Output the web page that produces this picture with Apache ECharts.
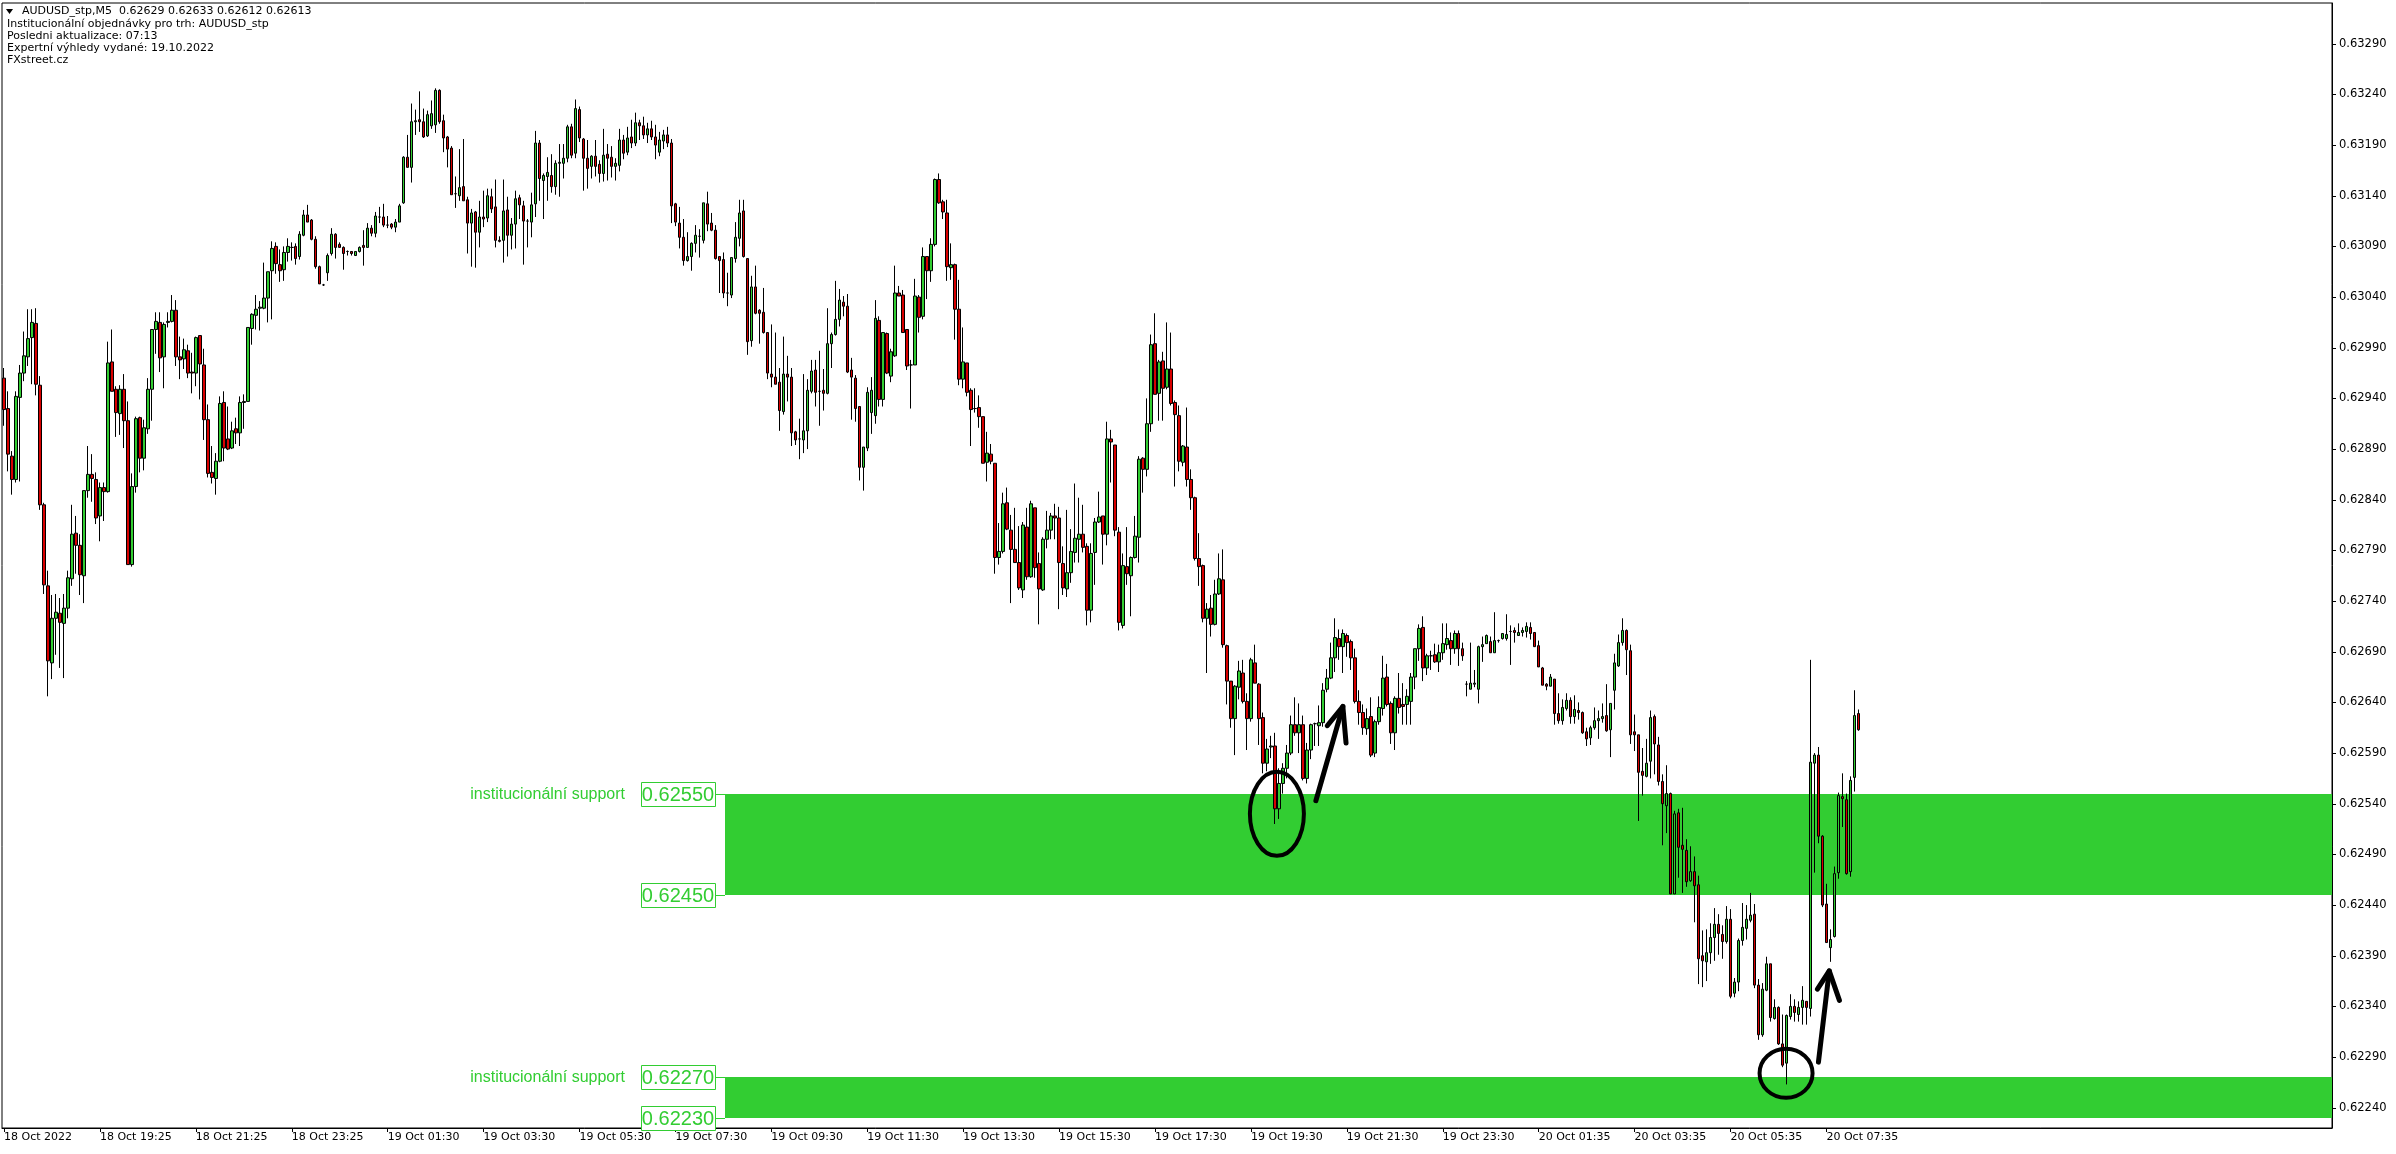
<!DOCTYPE html>
<html><head><meta charset="utf-8">
<script src="https://cdn.jsdelivr.net/npm/echarts@6/dist/echarts.min.js"></script>
<style>html,body{margin:0;padding:0;background:#fff;overflow:hidden}#c{width:2396px;height:1154px}</style>
</head><body><div id="c"></div>
<script>
// ---- DATA (AUDUSD_stp, M5) ----
const opens = [
0.62960,0.62930,0.62883,0.62860,0.62941,0.62965,0.62981,0.63000,0.63014,0.62953,
0.62835,0.62755,0.62679,0.62723,0.62728,0.62718,0.62733,0.62762,0.62807,0.62795,
0.62765,0.62849,0.62865,0.62860,0.62824,0.62852,0.62848,0.62976,0.62949,0.62925,
0.62949,0.62918,0.62776,0.62853,0.62921,0.62881,0.62910,0.62949,0.63008,0.63015,
0.62981,0.63015,0.63016,0.63027,0.62981,0.62979,0.62987,0.62966,0.62965,0.63002,
0.62973,0.62919,0.62867,0.62861,0.62878,0.62936,0.62900,0.62891,0.62910,0.62906,
0.62936,0.62937,0.63009,0.63022,0.63029,0.63029,0.63039,0.63066,0.63090,0.63072,
0.63067,0.63084,0.63089,0.63090,0.63080,0.63101,0.63121,0.63116,0.63097,0.63070,
0.63052,0.63064,0.63083,0.63102,0.63092,0.63089,0.63085,0.63085,0.63081,0.63085,
0.63091,0.63089,0.63108,0.63103,0.63119,0.63119,0.63111,0.63112,0.63109,0.63114,
0.63133,0.63178,0.63168,0.63213,0.63215,0.63213,0.63199,0.63209,0.63210,0.63244,
0.63214,0.63198,0.63187,0.63142,0.63140,0.63149,0.63136,0.63113,0.63124,0.63104,
0.63119,0.63118,0.63139,0.63129,0.63096,0.63096,0.63126,0.63101,0.63112,0.63138,
0.63130,0.63115,0.63114,0.63132,0.63192,0.63155,0.63159,0.63160,0.63149,0.63172,
0.63172,0.63177,0.63208,0.63182,0.63225,0.63196,0.63177,0.63169,0.63179,0.63171,
0.63162,0.63181,0.63178,0.63169,0.63170,0.63195,0.63183,0.63198,0.63192,0.63212,
0.63209,0.63200,0.63206,0.63198,0.63183,0.63194,0.63200,0.63192,0.63132,0.63113,
0.63099,0.63076,0.63080,0.63093,0.63100,0.63096,0.63132,0.63113,0.63106,0.63080,
0.63077,0.63044,0.63042,0.63078,0.63098,0.63125,0.63078,0.62997,0.63050,0.63027,
0.63025,0.63005,0.62964,0.62961,0.62956,0.62927,0.62964,0.62961,0.62907,0.62900,
0.62899,0.62908,0.62947,0.62968,0.62947,0.62948,0.62945,0.62994,0.63003,0.63018,
0.63035,0.63031,0.62968,0.62960,0.62932,0.62872,0.62891,0.62926,0.62923,0.63017,
0.62939,0.63004,0.62962,0.62982,0.63044,0.63042,0.63008,0.62973,0.62973,0.63040,
0.63021,0.63080,0.63066,0.63092,0.63156,0.63134,0.63123,0.63069,0.63072,0.63028,
0.62959,0.62975,0.62948,0.62930,0.62931,0.62922,0.62877,0.62885,0.62876,0.62783,
0.62789,0.62837,0.62810,0.62791,0.62778,0.62751,0.62813,0.62764,0.62832,0.62777,
0.62751,0.62801,0.62810,0.62824,0.62822,0.62777,0.62752,0.62768,0.62788,0.62801,
0.62806,0.62794,0.62731,0.62788,0.62818,0.62824,0.62806,0.62900,0.62894,0.62808,
0.62716,0.62774,0.62765,0.62783,0.62803,0.62881,0.62870,0.62915,0.62994,0.62945,
0.62977,0.62951,0.62969,0.62936,0.62923,0.62877,0.62892,0.62860,0.62842,0.62782,
0.62775,0.62723,0.62733,0.62717,0.62747,0.62761,0.62696,0.62661,0.62624,0.62655,
0.62669,0.62641,0.62624,0.62679,0.62658,0.62625,0.62580,0.62596,0.62597,0.62535,
0.62560,0.62575,0.62590,0.62618,0.62610,0.62618,0.62565,0.62593,0.62619,0.62617,
0.62620,0.62653,0.62664,0.62684,0.62703,0.62695,0.62706,0.62700,0.62684,0.62641,
0.62630,0.62614,0.62626,0.62590,0.62621,0.62634,0.62665,0.62639,0.62610,0.62644,
0.62638,0.62638,0.62641,0.62665,0.62693,0.62714,0.62674,0.62686,0.62687,0.62680,
0.62689,0.62697,0.62701,0.62693,0.62708,0.62693,0.62658,0.62653,0.62658,0.62653,
0.62695,0.62698,0.62700,0.62689,0.62701,0.62703,0.62703,0.62710,0.62711,0.62706,
0.62709,0.62710,0.62714,0.62709,0.62696,0.62674,0.62658,0.62656,0.62663,0.62629,
0.62622,0.62634,0.62642,0.62626,0.62632,0.62630,0.62611,0.62605,0.62615,0.62622,
0.62624,0.62627,0.62613,0.62652,0.62676,0.62699,0.62711,0.62691,0.62611,0.62608,
0.62572,0.62567,0.62582,0.62626,0.62598,0.62562,0.62538,0.62550,0.62451,0.62531,
0.62499,0.62494,0.62464,0.62473,0.62460,0.62390,0.62384,0.62393,0.62408,0.62421,
0.62411,0.62404,0.62426,0.62353,0.62364,0.62405,0.62417,0.62425,0.62431,0.62361,
0.62312,0.62356,0.62382,0.62328,0.62339,0.62303,0.62284,0.62330,0.62340,0.62332,
0.62339,0.62345,0.62338,0.62580,0.62588,0.62508,0.62441,0.62398,0.62409,0.62472,
0.62547,0.62544,0.62473,0.62566,0.62629];
const highs = [
0.62970,0.62947,0.62888,0.62947,0.62973,0.63006,0.63028,0.63028,0.63029,0.62962,
0.62837,0.62770,0.62746,0.62747,0.62743,0.62747,0.62770,0.62835,0.62824,0.62806,
0.62849,0.62893,0.62885,0.62867,0.62857,0.62857,0.62996,0.63008,0.62952,0.62953,
0.62964,0.62937,0.62866,0.62922,0.62922,0.62919,0.62960,0.63008,0.63025,0.63025,
0.63015,0.63025,0.63042,0.63037,0.63001,0.62999,0.62993,0.62985,0.63001,0.63002,
0.62989,0.62934,0.62893,0.62886,0.62942,0.62947,0.62932,0.62917,0.62921,0.62942,
0.62944,0.63010,0.63024,0.63042,0.63036,0.63074,0.63065,0.63095,0.63094,0.63087,
0.63090,0.63098,0.63094,0.63093,0.63105,0.63126,0.63131,0.63117,0.63100,0.63071,
0.63053,0.63083,0.63108,0.63103,0.63094,0.63090,0.63086,0.63085,0.63085,0.63090,
0.63106,0.63113,0.63111,0.63124,0.63129,0.63132,0.63120,0.63113,0.63117,0.63132,
0.63179,0.63200,0.63231,0.63225,0.63243,0.63226,0.63224,0.63234,0.63246,0.63245,
0.63220,0.63199,0.63189,0.63159,0.63186,0.63196,0.63139,0.63127,0.63125,0.63135,
0.63145,0.63147,0.63147,0.63156,0.63100,0.63156,0.63139,0.63118,0.63145,0.63141,
0.63135,0.63117,0.63143,0.63204,0.63195,0.63162,0.63178,0.63181,0.63175,0.63191,
0.63191,0.63210,0.63211,0.63235,0.63228,0.63197,0.63195,0.63180,0.63195,0.63175,
0.63206,0.63191,0.63189,0.63177,0.63206,0.63200,0.63208,0.63215,0.63222,0.63215,
0.63218,0.63212,0.63214,0.63210,0.63203,0.63205,0.63208,0.63196,0.63133,0.63129,
0.63117,0.63104,0.63094,0.63111,0.63107,0.63133,0.63144,0.63123,0.63111,0.63080,
0.63084,0.63064,0.63079,0.63114,0.63136,0.63136,0.63078,0.63061,0.63071,0.63028,
0.63049,0.63005,0.63013,0.63005,0.62970,0.63001,0.62982,0.62970,0.62908,0.62920,
0.62964,0.62959,0.62978,0.62978,0.62987,0.62969,0.63029,0.63005,0.63056,0.63048,
0.63041,0.63043,0.62980,0.62963,0.62932,0.62892,0.62951,0.62961,0.63037,0.63021,
0.63005,0.63005,0.62989,0.63071,0.63051,0.63047,0.63008,0.62978,0.63058,0.63042,
0.63089,0.63080,0.63098,0.63157,0.63162,0.63136,0.63136,0.63093,0.63073,0.63057,
0.63010,0.62975,0.62950,0.62950,0.62943,0.62922,0.62907,0.62895,0.62876,0.62817,
0.62847,0.62852,0.62825,0.62832,0.62814,0.62818,0.62832,0.62839,0.62832,0.62788,
0.62803,0.62829,0.62827,0.62836,0.62833,0.62794,0.62830,0.62811,0.62856,0.62842,
0.62835,0.62797,0.62797,0.62822,0.62848,0.62824,0.62917,0.62909,0.62894,0.62813,
0.62787,0.62813,0.62784,0.62824,0.62883,0.62882,0.62940,0.63003,0.63024,0.62978,
0.62986,0.63015,0.63005,0.62938,0.62933,0.62894,0.62931,0.62870,0.62843,0.62807,
0.62776,0.62738,0.62746,0.62761,0.62787,0.62791,0.62697,0.62661,0.62657,0.62681,
0.62682,0.62649,0.62684,0.62697,0.62659,0.62630,0.62604,0.62607,0.62610,0.62575,
0.62580,0.62598,0.62627,0.62645,0.62639,0.62627,0.62600,0.62619,0.62620,0.62637,
0.62659,0.62673,0.62699,0.62723,0.62712,0.62712,0.62708,0.62702,0.62693,0.62652,
0.62638,0.62634,0.62645,0.62623,0.62646,0.62686,0.62678,0.62641,0.62646,0.62669,
0.62659,0.62653,0.62669,0.62693,0.62717,0.62725,0.62688,0.62691,0.62698,0.62697,
0.62718,0.62718,0.62709,0.62711,0.62711,0.62699,0.62661,0.62699,0.62672,0.62696,
0.62705,0.62707,0.62705,0.62729,0.62702,0.62708,0.62727,0.62716,0.62714,0.62718,
0.62714,0.62719,0.62719,0.62709,0.62701,0.62675,0.62659,0.62668,0.62663,0.62649,
0.62643,0.62649,0.62645,0.62647,0.62640,0.62631,0.62615,0.62617,0.62635,0.62632,
0.62639,0.62658,0.62639,0.62688,0.62707,0.62723,0.62712,0.62697,0.62628,0.62608,
0.62595,0.62604,0.62632,0.62628,0.62606,0.62569,0.62578,0.62551,0.62533,0.62535,
0.62536,0.62505,0.62498,0.62488,0.62469,0.62415,0.62416,0.62422,0.62437,0.62431,
0.62420,0.62439,0.62436,0.62368,0.62407,0.62442,0.62440,0.62452,0.62441,0.62367,
0.62363,0.62389,0.62382,0.62347,0.62340,0.62332,0.62332,0.62352,0.62347,0.62345,
0.62360,0.62345,0.62682,0.62590,0.62596,0.62509,0.62461,0.62416,0.62478,0.62551,
0.62570,0.62550,0.62567,0.62652,0.62633];
const lows = [
0.62913,0.62868,0.62845,0.62857,0.62858,0.62957,0.62972,0.62954,0.62943,0.62830,
0.62747,0.62646,0.62663,0.62687,0.62674,0.62664,0.62723,0.62755,0.62767,0.62746,
0.62738,0.62842,0.62838,0.62816,0.62799,0.62819,0.62847,0.62947,0.62902,0.62904,
0.62891,0.62776,0.62774,0.62847,0.62867,0.62869,0.62905,0.62918,0.62984,0.62966,
0.62950,0.63010,0.63015,0.62972,0.62959,0.62969,0.62960,0.62945,0.62952,0.62939,
0.62899,0.62862,0.62856,0.62845,0.62877,0.62878,0.62889,0.62890,0.62895,0.62893,
0.62910,0.62937,0.62993,0.63008,0.63007,0.63028,0.63015,0.63018,0.63063,0.63055,
0.63056,0.63075,0.63076,0.63072,0.63077,0.63100,0.63114,0.63096,0.63068,0.63053,
0.63051,0.63056,0.63081,0.63078,0.63089,0.63067,0.63081,0.63081,0.63081,0.63084,
0.63071,0.63089,0.63100,0.63099,0.63113,0.63109,0.63108,0.63107,0.63104,0.63114,
0.63132,0.63168,0.63153,0.63200,0.63203,0.63197,0.63198,0.63206,0.63202,0.63211,
0.63183,0.63168,0.63141,0.63128,0.63135,0.63135,0.63083,0.63070,0.63069,0.63089,
0.63109,0.63114,0.63123,0.63089,0.63094,0.63074,0.63080,0.63087,0.63088,0.63117,
0.63072,0.63089,0.63099,0.63119,0.63135,0.63117,0.63135,0.63143,0.63141,0.63139,
0.63157,0.63173,0.63177,0.63177,0.63193,0.63145,0.63147,0.63157,0.63159,0.63153,
0.63154,0.63155,0.63158,0.63155,0.63164,0.63176,0.63180,0.63187,0.63189,0.63195,
0.63196,0.63192,0.63195,0.63176,0.63179,0.63186,0.63188,0.63113,0.63110,0.63088,
0.63071,0.63075,0.63066,0.63084,0.63079,0.63093,0.63105,0.63105,0.63077,0.63044,
0.63039,0.63031,0.63039,0.63074,0.63090,0.63079,0.62983,0.62991,0.63023,0.62994,
0.63004,0.62959,0.62951,0.62954,0.62908,0.62924,0.62937,0.62893,0.62894,0.62880,
0.62886,0.62890,0.62945,0.62932,0.62913,0.62928,0.62944,0.62970,0.63002,0.63011,
0.63021,0.62965,0.62919,0.62917,0.62859,0.62849,0.62888,0.62905,0.62915,0.62932,
0.62932,0.62964,0.62956,0.62981,0.63041,0.63005,0.62968,0.62930,0.62973,0.63005,
0.63018,0.63038,0.63055,0.63090,0.63132,0.63117,0.63056,0.63057,0.62998,0.62953,
0.62950,0.62942,0.62893,0.62926,0.62911,0.62876,0.62858,0.62875,0.62767,0.62776,
0.62787,0.62810,0.62738,0.62778,0.62751,0.62743,0.62761,0.62763,0.62763,0.62717,
0.62750,0.62792,0.62801,0.62801,0.62732,0.62746,0.62744,0.62758,0.62778,0.62778,
0.62788,0.62716,0.62719,0.62756,0.62817,0.62776,0.62795,0.62857,0.62804,0.62711,
0.62713,0.62756,0.62725,0.62782,0.62778,0.62847,0.62863,0.62907,0.62944,0.62918,
0.62918,0.62949,0.62933,0.62853,0.62868,0.62873,0.62853,0.62830,0.62780,0.62755,
0.62719,0.62669,0.62705,0.62716,0.62746,0.62694,0.62638,0.62615,0.62588,0.62643,
0.62639,0.62593,0.62621,0.62659,0.62598,0.62570,0.62572,0.62585,0.62520,0.62525,
0.62550,0.62565,0.62588,0.62607,0.62590,0.62563,0.62560,0.62584,0.62597,0.62597,
0.62616,0.62650,0.62663,0.62670,0.62682,0.62669,0.62685,0.62672,0.62639,0.62618,
0.62608,0.62608,0.62586,0.62586,0.62618,0.62627,0.62636,0.62599,0.62593,0.62629,
0.62618,0.62618,0.62618,0.62653,0.62681,0.62661,0.62667,0.62672,0.62679,0.62670,
0.62682,0.62692,0.62677,0.62688,0.62676,0.62681,0.62646,0.62653,0.62655,0.62639,
0.62680,0.62698,0.62689,0.62689,0.62699,0.62702,0.62701,0.62677,0.62699,0.62706,
0.62705,0.62704,0.62702,0.62695,0.62675,0.62657,0.62652,0.62656,0.62618,0.62619,
0.62618,0.62632,0.62619,0.62619,0.62623,0.62609,0.62597,0.62598,0.62613,0.62604,
0.62620,0.62611,0.62586,0.62633,0.62675,0.62696,0.62667,0.62599,0.62592,0.62523,
0.62548,0.62566,0.62565,0.62569,0.62558,0.62499,0.62511,0.62451,0.62451,0.62467,
0.62452,0.62458,0.62463,0.62423,0.62362,0.62359,0.62365,0.62382,0.62385,0.62391,
0.62387,0.62402,0.62348,0.62349,0.62355,0.62400,0.62406,0.62423,0.62358,0.62307,
0.62310,0.62355,0.62325,0.62327,0.62302,0.62280,0.62263,0.62327,0.62325,0.62325,
0.62322,0.62322,0.62330,0.62472,0.62501,0.62438,0.62403,0.62384,0.62408,0.62466,
0.62517,0.62470,0.62468,0.62552,0.62612];
const closes = [
0.62929,0.62885,0.62860,0.62942,0.62965,0.62982,0.62999,0.63015,0.62954,0.62835,
0.62756,0.62681,0.62723,0.62729,0.62719,0.62733,0.62763,0.62806,0.62795,0.62766,
0.62849,0.62865,0.62861,0.62822,0.62852,0.62848,0.62975,0.62947,0.62926,0.62949,
0.62918,0.62776,0.62853,0.62920,0.62881,0.62911,0.62949,0.63008,0.63016,0.62980,
0.63013,0.63016,0.63027,0.62981,0.62978,0.62988,0.62965,0.62965,0.63000,0.62974,
0.62919,0.62866,0.62862,0.62878,0.62935,0.62891,0.62890,0.62908,0.62906,0.62936,
0.62937,0.63010,0.63023,0.63028,0.63030,0.63039,0.63065,0.63088,0.63073,0.63066,
0.63084,0.63090,0.63089,0.63078,0.63102,0.63121,0.63114,0.63097,0.63070,0.63053,
0.63052,0.63081,0.63102,0.63089,0.63089,0.63083,0.63085,0.63083,0.63085,0.63089,
0.63089,0.63108,0.63103,0.63120,0.63119,0.63111,0.63111,0.63109,0.63114,0.63130,
0.63178,0.63168,0.63213,0.63214,0.63213,0.63198,0.63220,0.63221,0.63244,0.63213,
0.63197,0.63186,0.63141,0.63142,0.63148,0.63135,0.63113,0.63123,0.63104,0.63119,
0.63117,0.63140,0.63127,0.63096,0.63095,0.63125,0.63101,0.63112,0.63137,0.63131,
0.63115,0.63115,0.63131,0.63192,0.63157,0.63160,0.63163,0.63149,0.63172,0.63173,
0.63177,0.63208,0.63180,0.63226,0.63197,0.63177,0.63167,0.63179,0.63169,0.63162,
0.63180,0.63177,0.63169,0.63172,0.63195,0.63182,0.63197,0.63192,0.63212,0.63209,
0.63200,0.63206,0.63198,0.63190,0.63195,0.63200,0.63192,0.63130,0.63114,0.63099,
0.63076,0.63080,0.63093,0.63101,0.63100,0.63133,0.63112,0.63106,0.63078,0.63076,
0.63044,0.63044,0.63079,0.63099,0.63123,0.63080,0.62996,0.63050,0.63024,0.63024,
0.63005,0.62965,0.62961,0.62954,0.62928,0.62964,0.62961,0.62906,0.62899,0.62900,
0.62908,0.62948,0.62967,0.62946,0.62947,0.62945,0.62994,0.63003,0.63018,0.63037,
0.63031,0.62966,0.62961,0.62930,0.62872,0.62892,0.62946,0.62948,0.63019,0.62939,
0.63005,0.62965,0.62986,0.63044,0.63041,0.63005,0.62972,0.62973,0.63041,0.63020,
0.63080,0.63066,0.63092,0.63156,0.63133,0.63124,0.63070,0.63072,0.63028,0.62959,
0.62976,0.62946,0.62929,0.62930,0.62922,0.62876,0.62886,0.62878,0.62783,0.62789,
0.62836,0.62811,0.62791,0.62778,0.62753,0.62815,0.62764,0.62836,0.62773,0.62752,
0.62801,0.62810,0.62824,0.62822,0.62778,0.62753,0.62768,0.62789,0.62802,0.62806,
0.62793,0.62731,0.62787,0.62818,0.62823,0.62806,0.62900,0.62897,0.62810,0.62719,
0.62775,0.62767,0.62783,0.62804,0.62880,0.62870,0.62915,0.62993,0.62944,0.62976,
0.62950,0.62969,0.62935,0.62924,0.62878,0.62893,0.62860,0.62842,0.62782,0.62774,
0.62723,0.62732,0.62717,0.62747,0.62762,0.62697,0.62661,0.62624,0.62656,0.62671,
0.62641,0.62624,0.62682,0.62659,0.62624,0.62580,0.62594,0.62597,0.62535,0.62560,
0.62575,0.62590,0.62618,0.62610,0.62618,0.62565,0.62593,0.62618,0.62619,0.62620,
0.62652,0.62664,0.62684,0.62704,0.62695,0.62708,0.62699,0.62684,0.62641,0.62630,
0.62615,0.62624,0.62588,0.62621,0.62635,0.62664,0.62638,0.62610,0.62644,0.62635,
0.62636,0.62646,0.62665,0.62693,0.62713,0.62674,0.62686,0.62686,0.62680,0.62689,
0.62698,0.62703,0.62693,0.62708,0.62693,0.62686,0.62658,0.62659,0.62659,0.62695,
0.62697,0.62706,0.62689,0.62701,0.62701,0.62708,0.62707,0.62710,0.62709,0.62709,
0.62711,0.62715,0.62708,0.62695,0.62675,0.62657,0.62656,0.62665,0.62629,0.62622,
0.62635,0.62642,0.62626,0.62633,0.62630,0.62610,0.62604,0.62615,0.62622,0.62624,
0.62626,0.62612,0.62639,0.62679,0.62699,0.62711,0.62692,0.62608,0.62608,0.62571,
0.62568,0.62580,0.62625,0.62599,0.62562,0.62540,0.62550,0.62451,0.62530,0.62497,
0.62495,0.62463,0.62473,0.62459,0.62387,0.62385,0.62393,0.62408,0.62421,0.62412,
0.62404,0.62426,0.62350,0.62364,0.62405,0.62418,0.62426,0.62430,0.62361,0.62312,
0.62357,0.62382,0.62329,0.62339,0.62303,0.62282,0.62331,0.62340,0.62334,0.62339,
0.62346,0.62339,0.62581,0.62588,0.62508,0.62440,0.62403,0.62406,0.62471,0.62548,
0.62545,0.62471,0.62563,0.62627,0.62613];

const xTickLabels = ['18 Oct 2022','18 Oct 19:25','18 Oct 21:25','18 Oct 23:25','19 Oct 01:30','19 Oct 03:30',
  '19 Oct 05:30','19 Oct 07:30','19 Oct 09:30','19 Oct 11:30','19 Oct 13:30','19 Oct 15:30','19 Oct 17:30',
  '19 Oct 19:30','19 Oct 21:30','19 Oct 23:30','20 Oct 01:35','20 Oct 03:35','20 Oct 05:35','20 Oct 07:35'];
const yTickLabels = ['0.62240','0.62290','0.62340','0.62390','0.62440','0.62490','0.62540','0.62590','0.62640',
  '0.62690','0.62740','0.62790','0.62840','0.62890','0.62940','0.62990','0.63040','0.63090','0.63140','0.63190',
  '0.63240','0.63290'];
// institutional support zones [low, high], drawn from the bar where they start
const zoneLows  = [0.62450, 0.62230];
const zoneHighs = [0.62550, 0.62270];
const zoneStartBar = 180.5;
const zoneLabel = 'institucionální support';
const headerLines = ['Institucionální objednávky pro trh: AUDUSD_stp','Posledni aktualizace: 07:13',
  'Expertní výhledy vydané: 19.10.2022','FXstreet.cz'];
// hand-drawn annotations, in (bar index, price)
const ellipses = [{c:[318.5,0.62530], rx:27, ry:42}, {c:[445.9,0.62274], rx:26.5, ry:24.5}];
const arrows = [
  {tail:[328.25,0.62543], tip:[335.0,0.62636], w1:[331.1,0.62617], w2:[335.8,0.62600]},
  {tail:[454.0,0.62285], tip:[456.7,0.62375], w1:[453.75,0.62357], w2:[459.25,0.62346]}];

// ---- CHART ----
const GREEN = '#32CD32';
const N_SLOTS = 583;           // bar slots across the plot (chart shift leaves empty space on the right)
const STEP = 24;               // a time label every 24 bars
const cats = Array.from({length: N_SLOTS}, (_, i) => String(i));
const candleData = opens.map((o, i) => [o, closes[i], lows[i], highs[i]]);
const last = opens.length - 1;
const f5 = v => v.toFixed(5);
const showX = i => i % STEP === 0 && (i / STEP) < xTickLabels.length;
const FONT = '"DejaVu Sans", sans-serif';

const chart = echarts.init(document.getElementById('c'), null, {renderer: 'canvas'});

function px(api, p) {
  const b = p[0], i = Math.floor(b);
  const c = api.coord([i, p[1]]);
  const slot = api.size([1, 0])[0];
  return [c[0] + (b - i) * slot, c[1]];
}

chart.setOption({
  animation: false,
  backgroundColor: '#fff',
  grid: {left: 2, right: 64, top: 3, bottom: 26, show: true, borderColor: '#000', borderWidth: 1},
  xAxis: {
    type: 'category', data: cats, boundaryGap: true,
    axisLine: {show: true, lineStyle: {color: '#000', width: 1}},
    axisTick: {show: true, interval: (i) => showX(i), alignWithLabel: true, length: 4, lineStyle: {color: '#000'}},
    axisLabel: {interval: (i) => showX(i), formatter: (v, i) => xTickLabels[i / STEP] || '',
      align: 'left', color: '#000', fontSize: 11, fontFamily: FONT, margin: 4},
    splitLine: {show: false}
  },
  yAxis: {
    type: 'value', position: 'right', min: 0.6222, max: 0.633302, interval: 0.0001,
    axisLine: {show: true, lineStyle: {color: '#000'}}, axisTick: {show: false}, splitLine: {show: false},
    axisLabel: {formatter: v => { const s = f5(v); return yTickLabels.includes(s) ? s : ''; },
      color: '#000', fontSize: 11.5, fontFamily: FONT, margin: 7}
  },
  graphic: [
    {type: 'polygon', shape: {points: [[6, 9], [13, 9], [9.5, 14]]}, style: {fill: '#000'}},
    {type: 'text', x: 22, y: 6, style: {text: 'AUDUSD_stp,M5  ' + [opens[last], highs[last], lows[last], closes[last]].map(f5).join(' '),
      font: '11px ' + FONT, fill: '#000'}},
    ...headerLines.map((t, k) => ({type: 'text', x: 7, y: 19 + k * 12, style: {text: t, font: '11px ' + FONT, fill: '#000'}}))
  ],
  series: [
    { // zones with their price boxes
      type: 'custom', z: 1, silent: true, clip: false,
      data: zoneLows.map((lo, k) => [zoneStartBar, lo, zoneHighs[k]]),
      encode: {x: 0, y: [1, 2]},
      renderItem: (params, api) => {
        const lo = api.value(1), hi = api.value(2);
        const top = px(api, [zoneStartBar, hi]), bot = px(api, [zoneStartBar, lo]);
        const x0 = Math.round(top[0]);
        const x1 = params.coordSys.x + params.coordSys.width;
        const ch = [{type: 'rect', shape: {x: x0, y: Math.round(top[1]), width: x1 - x0, height: Math.round(bot[1]) - Math.round(top[1])}, style: {fill: GREEN}}];
        [[hi, top[1]], [lo, bot[1]]].forEach(([v, yy]) => {
          const y = Math.round(yy) + 0.5;
          ch.push({type: 'line', shape: {x1: x0 - 10, y1: y, x2: x0, y2: y}, style: {stroke: GREEN, lineWidth: 1}});
          ch.push({type: 'rect', shape: {x: x0 - 84 + 0.5, y: y - 12, width: 74, height: 24}, style: {fill: '#fff', stroke: GREEN, lineWidth: 1}});
          ch.push({type: 'text', x: x0 - 47, y: y + 1, style: {text: f5(v), fill: GREEN, font: '20px "Liberation Sans", sans-serif', align: 'center', verticalAlign: 'middle'}});
        });
        ch.push({type: 'text', x: x0 - 100, y: Math.round(top[1]) + 1, style: {text: zoneLabel, fill: GREEN, font: '16px "Liberation Sans", sans-serif', align: 'right', verticalAlign: 'middle'}});
        return {type: 'group', children: ch};
      }
    },
    {
      type: 'candlestick', z: 3, data: candleData, barWidth: 3,
      itemStyle: {color: GREEN, color0: '#D80000', borderColor: '#000', borderColor0: '#000', borderWidth: 1},
      markLine: {silent: true, symbol: ['none', 'none'], animation: false, lineStyle: {opacity: 0},
        label: {show: true, position: 'end', formatter: f5(closes[last]), color: '#fff', backgroundColor: '#000',
          padding: [2, 3, 1, 3], fontSize: 11.5, fontFamily: FONT, distance: 2},
        data: [{yAxis: closes[last]}]}
    },
    { // y-axis tick marks at the labelled prices
      type: 'custom', z: 5, silent: true, clip: false,
      data: yTickLabels.map(s => [0, Number(s)]), encode: {x: 0, y: 1},
      renderItem: (params, api) => {
        const y = Math.round(api.coord([0, api.value(1)])[1]) + 0.5;
        const x = params.coordSys.x + params.coordSys.width;
        return {type: 'line', shape: {x1: x, y1: y, x2: x + 4, y2: y}, style: {stroke: '#000', lineWidth: 1}};
      }
    },
    { // hand-drawn annotations
      type: 'custom', z: 10, silent: true, clip: false,
      data: [[0, 0.63]], encode: {x: 0, y: 1},
      renderItem: (params, api) => {
        const ch = [];
        ellipses.forEach(e => {
          const c = px(api, e.c);
          ch.push({type: 'ellipse', shape: {cx: c[0], cy: c[1], rx: e.rx, ry: e.ry}, style: {fill: 'none', stroke: '#000', lineWidth: 4}});
        });
        arrows.forEach(a => {
          const t = px(api, a.tail), h = px(api, a.tip), w1 = px(api, a.w1), w2 = px(api, a.w2);
          ch.push({type: 'polyline', shape: {points: [t, h]}, style: {stroke: '#000', lineWidth: 5, lineCap: 'round'}});
          ch.push({type: 'polyline', shape: {points: [w1, h, w2]}, style: {stroke: '#000', lineWidth: 5, lineCap: 'round', lineJoin: 'round', fill: 'none'}});
        });
        return {type: 'group', children: ch};
      }
    }
  ]
});
</script></body></html>
